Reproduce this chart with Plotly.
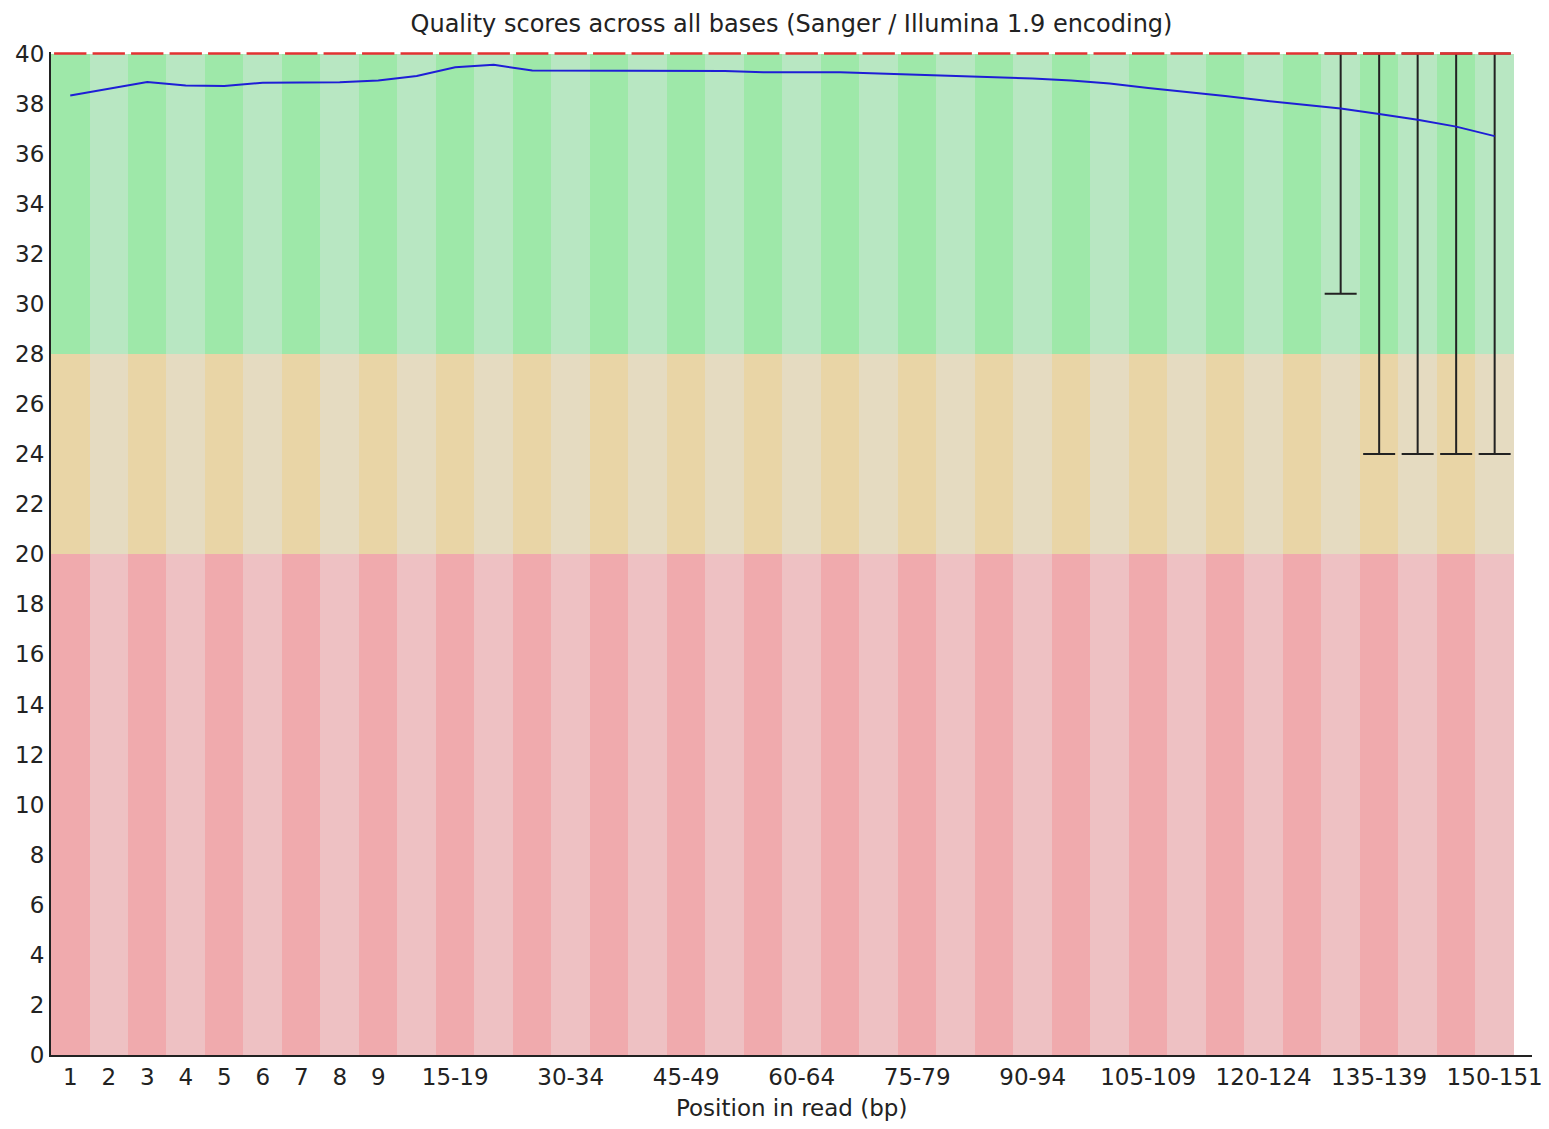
import plotly.graph_objects as go

categories = ["1", "2", "3", "4", "5", "6", "7", "8", "9",
              "10-14", "15-19", "20-24", "25-29", "30-34", "35-39", "40-44", "45-49",
              "50-54", "55-59", "60-64", "65-69", "70-74", "75-79", "80-84", "85-89",
              "90-94", "95-99", "100-104", "105-109", "110-114", "115-119", "120-124",
              "125-129", "130-134", "135-139", "140-144", "145-149", "150-151"]

mean_q = [38.32, 38.60, 38.86, 38.72, 38.70, 38.83, 38.85, 38.85, 38.92,
          39.10, 39.45, 39.55, 39.32, 39.32, 39.32, 39.32, 39.32,
          39.30, 39.25, 39.25, 39.25, 39.20, 39.15, 39.10, 39.05,
          39.00, 38.92, 38.80, 38.62, 38.47, 38.30, 38.12,
          37.95, 37.80, 37.58, 37.35, 37.08, 36.70]

median_q = [40, 40, 40, 40, 40, 40, 40, 40, 40,
            40, 40, 40, 40, 40, 40, 40, 40,
            40, 40, 40, 40, 40, 40, 40, 40,
            40, 40, 40, 40, 40, 40, 40,
            40, 40, 40, 40, 40, 40]

lower_10 = [40, 40, 40, 40, 40, 40, 40, 40, 40,
            40, 40, 40, 40, 40, 40, 40, 40,
            40, 40, 40, 40, 40, 40, 40, 40,
            40, 40, 40, 40, 40, 40, 40,
            40, 30.4, 24, 24, 24, 24]

upper_90 = [40, 40, 40, 40, 40, 40, 40, 40, 40,
            40, 40, 40, 40, 40, 40, 40, 40,
            40, 40, 40, 40, 40, 40, 40, 40,
            40, 40, 40, 40, 40, 40, 40,
            40, 40, 40, 40, 40, 40]

tick_labels = ["1", "2", "3", "4", "5", "6", "7", "8", "9", "15-19", "30-34", "45-49",
               "60-64", "75-79", "90-94", "105-109", "120-124", "135-139", "150-151"]

band_edges = [0, 20, 28, 40]
band_colors = [("#f0aaad", "#eec1c3"),   # poor
               ("#e9d5a6", "#e5dbc1"),   # reasonable
               ("#9ee8a9", "#b8e7c2")]   # good

FONT = "DejaVu Sans"
idx = list(range(len(categories)))

fig = go.Figure()

# background stripes
for (lo, hi), (c_dark, c_light) in zip(zip(band_edges[:-1], band_edges[1:]), band_colors):
    fig.add_trace(go.Bar(
        x=idx, y=[hi - lo] * len(idx), base=lo, width=1,
        marker=dict(color=[c_dark if i % 2 == 0 else c_light for i in idx], line=dict(width=0)),
        hoverinfo="skip", showlegend=False))

# whiskers (10th-90th percentile) where visible
w_idx = [i for i in idx if lower_10[i] < upper_90[i]]
fig.add_trace(go.Scatter(
    x=w_idx, y=[upper_90[i] for i in w_idx], mode="markers", cliponaxis=False,
    marker=dict(size=1, color="rgba(0,0,0,0)"),
    error_y=dict(type="data", symmetric=False,
                 array=[0 for i in w_idx],
                 arrayminus=[upper_90[i] - lower_10[i] for i in w_idx],
                 color="#222222", thickness=2, width=16),
    hoverinfo="skip", showlegend=False))

# median segments
fig.add_trace(go.Scatter(
    x=idx, y=median_q, mode="markers", cliponaxis=False,
    marker=dict(size=1, color="rgba(0,0,0,0)"),
    error_x=dict(type="constant", value=0.42, color="#e23232", thickness=2.5, width=0),
    hoverinfo="skip", showlegend=False))

# mean line
fig.add_trace(go.Scatter(
    x=idx, y=mean_q, mode="lines",
    line=dict(color="#1e1ed6", width=2),
    showlegend=False))

tick_vals = [categories.index(t) for t in tick_labels]

fig.update_layout(
    width=1541, height=1113,
    margin=dict(l=43, r=17, t=43.5, b=66, autoexpand=False),
    paper_bgcolor="white", plot_bgcolor="white",
    barmode="overlay", bargap=0,
    font=dict(family=FONT, size=23, color="#222222"),
    title=dict(text="Quality scores across all bases (Sanger / Illumina 1.9 encoding)",
               x=0.5, xref="paper", xanchor="center",
               y=1 - 16 / 1113, yref="container", yanchor="middle",
               font=dict(family=FONT, size=24, color="#222222")),
    xaxis=dict(range=[-0.5, 37.97], tickmode="array", tickvals=tick_vals, ticktext=tick_labels,
               showgrid=False, zeroline=False, showline=True, linecolor="#222222", linewidth=2,
               ticks="", tickfont=dict(size=23), automargin=False, ticklabeloverflow="allow"),
    yaxis=dict(range=[0, 40.06], tickmode="array", tickvals=list(range(0, 41, 2)),
               showgrid=False, zeroline=False,
               showline=True, linecolor="#222222", linewidth=2, ticks="",
               tickfont=dict(size=23), automargin=False),
    annotations=[dict(text="Position in read (bp)", x=0.5, xref="paper", xanchor="center",
                      y=0, yref="paper", yanchor="middle", yshift=-53, showarrow=False,
                      font=dict(family=FONT, size=23, color="#222222"))],
)

fig.write_html("out.html")
